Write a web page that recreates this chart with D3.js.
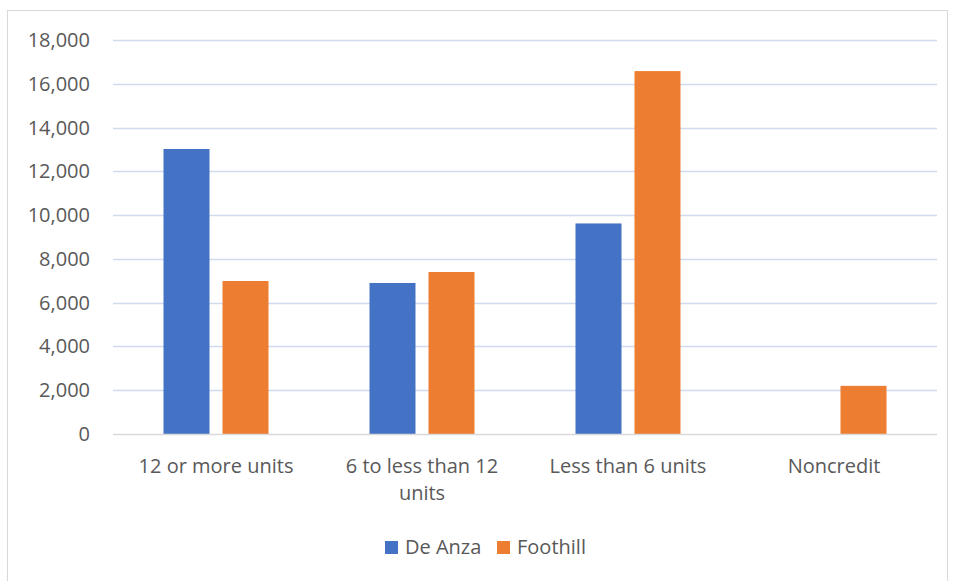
<!DOCTYPE html>
<html>
<head>
<meta charset="utf-8">
<script src="https://cdn.jsdelivr.net/npm/d3@7"></script>
<style>
  body { margin: 0; background: #fff; }
  text { font-family: "Open Sans", "Noto Sans", sans-serif; fill: #595959; }
</style>
</head>
<body>
<div id="canvas"></div>
<script>
const canvas = d3.select("#canvas");

const categories = [["12 or more units"], ["6 to less than 12", "units"], ["Less than 6 units"], ["Noncredit"]];
const seriesNames = ["De Anza", "Foothill"];
const deAnza = [13020, 6900, 9620, 0];
const foothill = [6990, 7400, 16580, 2200];
const yTicks = [0, 2000, 4000, 6000, 8000, 10000, 12000, 14000, 16000, 18000];
const colors = ["#4472c4", "#ed7d31"];

const width = 956;
const height = 581;
const margin = { top: 40, left: 113, bottom: 147, right: 19 };
const iwidth = width - margin.left - margin.right;
const iheight = height - margin.top - margin.bottom;
const fs = "20px";

const svg = canvas.append("svg").attr("width", width).attr("height", height);

// chart frame
svg.append("rect")
  .attr("x", 7.5).attr("y", 10.5)
  .attr("width", 940).attr("height", 580)
  .attr("fill", "none").attr("stroke", "#d9d9d9");

const g = svg.append("g").attr("transform", `translate(${margin.left},${margin.top})`);

const x = d3.scaleBand().domain(d3.range(categories.length)).range([0, iwidth]);
const y = d3.scaleLinear().domain([0, 18000]).range([iheight, 0]);

const barW = 46;
const gap = 13;

// gridlines
g.append("g")
  .selectAll("line")
  .data(yTicks.filter((d) => d > 0))
  .enter()
  .append("line")
  .attr("x1", 0).attr("x2", iwidth)
  .attr("y1", (d) => Math.round(y(d)) + 0.5)
  .attr("y2", (d) => Math.round(y(d)) + 0.5)
  .attr("stroke", "#d0dbef").attr("stroke-width", 1.5);

// y tick labels
g.append("g")
  .selectAll("text")
  .data(yTicks)
  .enter()
  .append("text")
  .attr("x", -23)
  .attr("y", (d) => y(d))
  .attr("dy", "0.35em")
  .attr("text-anchor", "end")
  .style("font-size", fs)
  .text((d) => d3.format(",")(d));

// bars
const series = [deAnza, foothill];
series.forEach((vals, si) => {
  g.append("g")
    .selectAll("rect")
    .data(vals)
    .enter()
    .append("rect")
    .attr("x", (d, i) => x(i) + x.bandwidth() / 2 + (si === 0 ? -(barW + gap / 2) : gap / 2))
    .attr("y", (d) => y(d))
    .attr("width", barW)
    .attr("height", (d) => iheight - y(d))
    .attr("fill", colors[si]);
});

// x axis line
g.append("line")
  .attr("x1", 0).attr("x2", iwidth)
  .attr("y1", iheight + 0.5).attr("y2", iheight + 0.5)
  .attr("stroke", "#d9d9d9").attr("stroke-width", 1.5);

// category labels
const labels = g.append("g")
  .selectAll("text")
  .data(categories)
  .enter()
  .append("text")
  .attr("text-anchor", "middle")
  .attr("transform", (d, i) => `translate(${x(i) + x.bandwidth() / 2},${iheight + 39})`)
  .style("font-size", fs);
labels.selectAll("tspan")
  .data((d) => d)
  .enter()
  .append("tspan")
  .attr("x", 0)
  .attr("dy", (d, i) => (i === 0 ? 0 : 27))
  .text((d) => d);

// legend
const legend = svg.append("g").attr("transform", "translate(385,547)");
const legX = [0, 112];
seriesNames.forEach((name, i) => {
  legend.append("rect")
    .attr("x", legX[i]).attr("y", -6)
    .attr("width", 13).attr("height", 13)
    .attr("fill", colors[i]);
  legend.append("text")
    .attr("x", legX[i] + 20).attr("y", 0)
    .attr("dy", "0.35em")
    .style("font-size", fs)
    .text(name);
});
</script>
</body>
</html>
